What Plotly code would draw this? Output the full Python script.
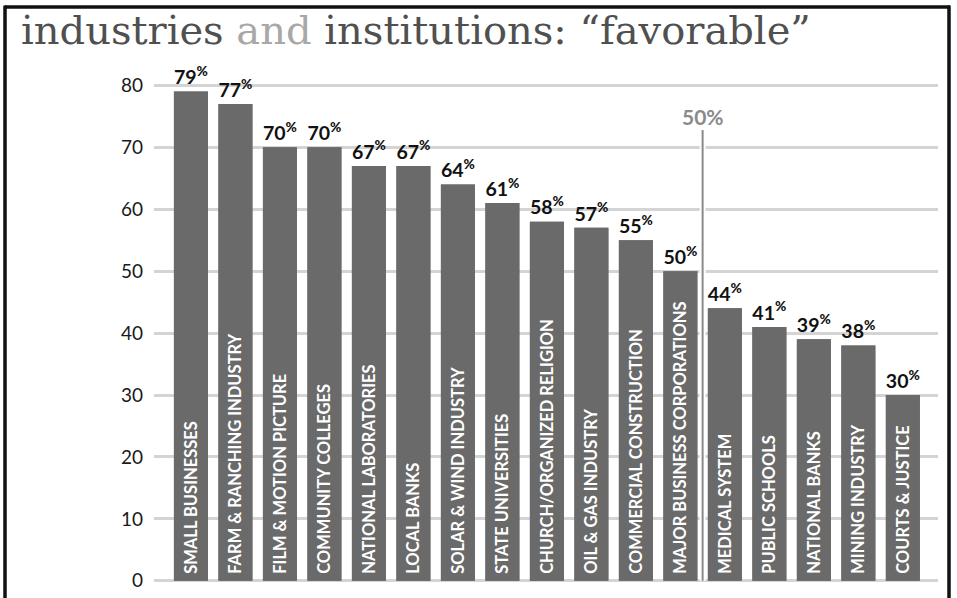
import plotly.graph_objects as go

categories = [
    "SMALL BUSINESSES", "FARM & RANCHING INDUSTRY", "FILM & MOTION PICTURE",
    "COMMUNITY COLLEGES", "NATIONAL LABORATORIES", "LOCAL BANKS",
    "SOLAR & WIND INDUSTRY", "STATE UNIVERSITIES", "CHURCH/ORGANIZED RELIGION",
    "OIL & GAS INDUSTRY", "COMMERCIAL CONSTRUCTION", "MAJOR BUSINESS CORPORATIONS",
    "MEDICAL SYSTEM", "PUBLIC SCHOOLS", "NATIONAL BANKS", "MINING INDUSTRY",
    "COURTS & JUSTICE",
]
favorable = [79, 77, 70, 70, 67, 67, 64, 61, 58, 57, 55, 50, 44, 41, 39, 38, 30]
y_ticks = [0, 10, 20, 30, 40, 50, 60, 70, 80]
threshold = 50
title_parts = ["industries ", "and", " institutions: “favorable”"]

W, H = 957, 598
ML, MR, MT, MB = 154, 19, 73, 7
bar_color = "#6a6a6a"
grid_color = "#d4d4d4"

value_text = [f"<b>{v}</b><sup>%</sup>" for v in favorable]
inside_text = ["\u00a0" + c for c in categories]

fig = go.Figure()
# bars with value labels above
fig.add_trace(go.Bar(
    x=categories, y=favorable, marker=dict(color=bar_color, line=dict(width=0)),
    text=value_text, textposition="outside", cliponaxis=False,
    textfont=dict(family="Lato", size=23, color="#111111", weight=900),
    hoverinfo="skip", showlegend=False,
))
# overlay with category names inside bars
fig.add_trace(go.Bar(
    x=categories, y=favorable, marker=dict(color=bar_color, line=dict(width=0)),
    text=inside_text, textposition="inside", insidetextanchor="start",
    textangle=-90, constraintext="none",
    insidetextfont=dict(family="Lato", size=16.5, color="white", weight=700),
    hoverinfo="skip", showlegend=False,
))

# threshold marker between last category >= threshold and first below
idx = sum(1 for v in favorable if v >= threshold)
line_x = idx - 0.5
fig.add_shape(type="line", xref="x", yref="y", x0=line_x, x1=line_x, y0=0, y1=72.8,
              line=dict(color="#ffffff", width=6), layer="above")
fig.add_shape(type="line", xref="x", yref="y", x0=line_x, x1=line_x, y0=0, y1=72.8,
              line=dict(color="#8a8a8a", width=2), layer="above")
fig.add_annotation(x=line_x, y=72.8, xref="x", yref="y", text=f"<b>{threshold}%</b>",
                   showarrow=False, yanchor="bottom", yshift=-1,
                   font=dict(family="Lato", size=21, color="#8a8a8a"))

# frame (bottom is cut off)
pw = W - ML - MR
ph = H - MT - MB
def px(xp):
    return (xp - ML) / pw
def py(yp):
    return (H - MB - yp) / ph
frame = dict(color="#111111", width=3.5)
fig.add_shape(type="line", xref="paper", yref="paper",
              x0=px(5), x1=px(950), y0=py(6.5), y1=py(6.5), line=frame, layer="above")
fig.add_shape(type="line", xref="paper", yref="paper",
              x0=px(5), x1=px(5), y0=py(5), y1=py(610), line=frame, layer="above")
fig.add_shape(type="line", xref="paper", yref="paper",
              x0=px(949), x1=px(949), y0=py(5), y1=py(610), line=frame, layer="above")

# title
title_html = (f"<span style='color:#505050'>{title_parts[0]}</span>"
              f"<span style='color:#a8a8a8'>{title_parts[1]}</span>"
              f"<span style='color:#505050'>{title_parts[2]}</span>")
fig.add_annotation(xref="paper", yref="paper", x=px(19), y=py(30), xanchor="left",
                   yanchor="middle", text=title_html, showarrow=False,
                   font=dict(family="DejaVu Serif", size=40, color="#505050"))

fig.update_layout(
    width=W, height=H, margin=dict(l=ML, r=MR, t=MT, b=MB),
    paper_bgcolor="white", plot_bgcolor="white",
    barmode="overlay", bargap=0.236,
    xaxis=dict(range=[-0.83, 16.79], showticklabels=False, showgrid=False,
               zeroline=False, showline=False, ticks=""),
    yaxis=dict(range=[-1, 82], tickvals=y_ticks, showgrid=True, gridcolor=grid_color,
               gridwidth=3, zeroline=False, showline=False, ticks="",
               ticklabelstandoff=10,
               tickfont=dict(family="Lato", size=19, color="#1a1a1a")),
    font=dict(family="Lato"),
)

fig.write_html("out.html", config={"displayModeBar": False},
               post_script="document.body.style.margin='0px';document.body.style.overflow='hidden';")
